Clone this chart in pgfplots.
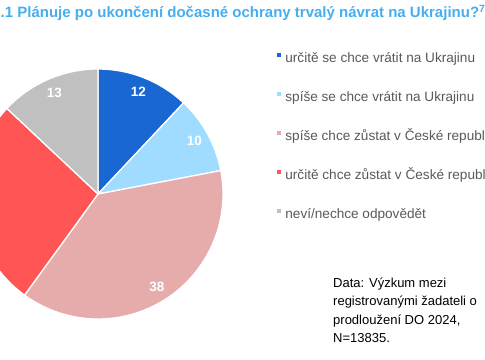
\documentclass[border=0pt]{standalone}
\usepackage{fontspec}
\setmainfont{Liberation Sans}
\usepackage{pgfplots}
\usepackage{pgfplotstable}
\pgfplotsset{compat=1.18}

\definecolor{c1}{HTML}{1967D2}
\definecolor{c2}{HTML}{A0DCFF}
\definecolor{c3}{HTML}{E6ACAC}
\definecolor{c4}{HTML}{FF5555}
\definecolor{c5}{HTML}{C0C0C0}
\definecolor{titleblue}{HTML}{45AEF0}
\definecolor{legtext}{HTML}{595959}

\newcommand\pielabelfont{\fontsize{13.5bp}{16bp}\selectfont\bfseries}

\pgfplotstableread{
value
12
10
38
27
13
}\pietable

\begin{document}
\begin{tikzpicture}
\useasboundingbox (0,0) rectangle (485bp,360bp);
\begin{scope}
\clip (0,0) rectangle (485bp,360bp);
\begin{axis}[
  hide axis, scale only axis,
  x=1bp, y=1bp,
  xmin=-125, xmax=125, ymin=-125, ymax=125,
  anchor=south west, at={(-27bp,41bp)},
  clip=false,
  legend cell align=left,
  legend style={at={(1.216,1.0652)}, anchor=north west, draw=none, fill=none,
    inner sep=0pt, outer sep=0pt,
    font=\fontsize{13.6bp}{16bp}\selectfont, text=legtext,
    row sep=25.9bp, column sep=4bp,
    nodes={inner sep=0pt, text height=10bp, text depth=3bp}},
  legend image code/.code={\fill[#1, draw=none] (0bp,1.8bp) rectangle (4.4bp,6.2bp);},
]
\def\piecum{0}
\pgfplotsforeachungrouped \pieidx in {0,...,4}{%
  \pgfplotstablegetelem{\pieidx}{value}\of\pietable
  \let\pieval\pgfplotsretval
  \pgfmathsetmacro\pieA{90-3.6*\piecum}
  \pgfmathsetmacro\pienew{\piecum+\pieval}
  \pgfmathsetmacro\pieB{90-3.6*\pienew}
  \pgfmathsetmacro\pieM{(\pieA+\pieB)/2}
  \pgfmathtruncatemacro\pieci{\pieidx+1}
  \edef\pietmp{%
    \noexpand\fill[c\pieci, draw=white, line width=1.3bp, line join=round]
      (axis cs:0,0) -- ++(\pieA:125bp) arc[start angle=\pieA, end angle=\pieB, radius=125bp] -- cycle;%
    \noexpand\node[text=white, font=\noexpand\pielabelfont, inner sep=0pt]
      at ([shift={(\pieM:110bp)}]axis cs:0,0) {\pieval};%
  }\pietmp
  \global\let\piecum\pienew
}
\addlegendimage{fill=c1, draw=none}\addlegendentry{určitě se chce vrátit na Ukrajinu}
\addlegendimage{fill=c2, draw=none}\addlegendentry{spíše se chce vrátit na Ukrajinu}
\addlegendimage{fill=c3, draw=none}\addlegendentry{spíše chce zůstat v České republice}
\addlegendimage{fill=c4, draw=none}\addlegendentry{určitě chce zůstat v České republice}
\addlegendimage{fill=c5, draw=none}\addlegendentry{neví/nechce odpovědět}
\end{axis}
\node[anchor=base west, inner sep=0pt, text=titleblue,
  font=\fontsize{15bp}{17bp}\selectfont\bfseries]
  at (0.5bp,342.5bp) {.1 Plánuje po ukončení dočasné ochrany trvalý návrat na Ukrajinu?\textsuperscript{7}};
\node[anchor=base west, inner sep=0pt, align=left, text=black,
  font=\fontsize{13bp}{18.5bp}\selectfont]
  at (333bp,17.5bp) {Data: Výzkum mezi\\registrovanými žadateli o\\prodloužení DO 2024,\\N=13835.};
\end{scope}
\end{tikzpicture}
\end{document}
